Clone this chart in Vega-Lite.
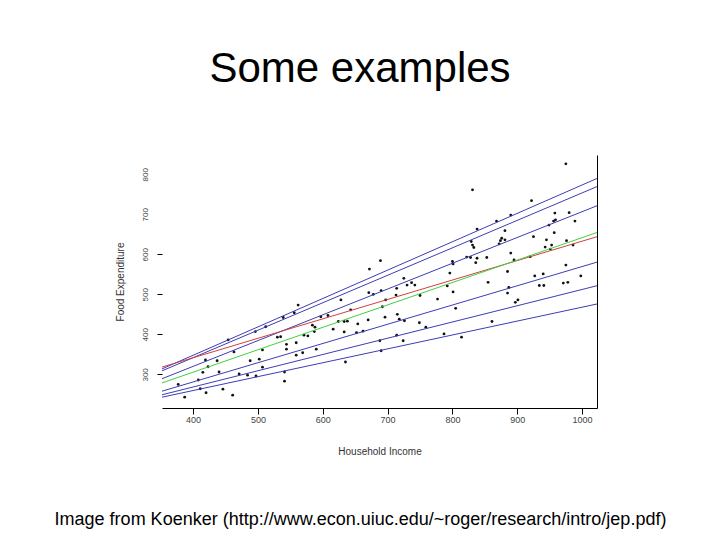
{
  "$schema": "https://vega.github.io/schema/vega-lite/v6.json",
  "width": 435,
  "height": 253,
  "autosize": {"type": "none"},
  "padding": {"left": 162, "top": 155, "right": 123, "bottom": 132},
  "background": "white",
  "config": {"view": {"stroke": null}, "font": "Liberation Sans"},
  "title": {
    "text": "Some examples",
    "font": "Liberation Sans",
    "fontSize": 42,
    "fontWeight": "normal",
    "color": "#000000",
    "anchor": "middle",
    "frame": "group",
    "dx": -19.5,
    "offset": 31,
    "baseline": "alphabetic"
  },
  "datasets": {
    "points": [
      {"income": 454, "food": 386}, {"income": 463, "food": 356}, {"income": 419, "food": 336},
      {"income": 423, "food": 319}, {"income": 488, "food": 334}, {"income": 502, "food": 338},
      {"income": 507, "food": 361}, {"income": 507, "food": 318}, {"income": 440, "food": 306},
      {"income": 408, "food": 286}, {"income": 415, "food": 305}, {"income": 471, "food": 301},
      {"income": 484, "food": 298}, {"income": 497, "food": 296}, {"income": 377, "food": 275},
      {"income": 411, "food": 264}, {"income": 446, "food": 263}, {"income": 420, "food": 254},
      {"income": 387, "food": 243}, {"income": 461, "food": 248}, {"income": 437, "food": 334},
      {"income": 496, "food": 407}, {"income": 512, "food": 419}, {"income": 562, "food": 473},
      {"income": 556, "food": 454}, {"income": 539, "food": 442}, {"income": 628, "food": 486},
      {"income": 643, "food": 461}, {"income": 608, "food": 447}, {"income": 597, "food": 444},
      {"income": 584, "food": 423}, {"income": 588, "food": 418}, {"income": 624, "food": 432},
      {"income": 633, "food": 432}, {"income": 638, "food": 433}, {"income": 654, "food": 426},
      {"income": 616, "food": 413}, {"income": 633, "food": 406}, {"income": 652, "food": 404},
      {"income": 662, "food": 408}, {"income": 587, "food": 407}, {"income": 571, "food": 398},
      {"income": 577, "food": 396}, {"income": 530, "food": 393}, {"income": 535, "food": 394},
      {"income": 559, "food": 379}, {"income": 544, "food": 375}, {"income": 544, "food": 363},
      {"income": 590, "food": 363}, {"income": 569, "food": 354}, {"income": 559, "food": 348},
      {"income": 635, "food": 331}, {"income": 541, "food": 306}, {"income": 541, "food": 283},
      {"income": 672, "food": 563}, {"income": 671, "food": 504}, {"income": 678, "food": 500},
      {"income": 670, "food": 436},
      {"income": 831, "food": 761}, {"income": 838, "food": 663}, {"income": 829, "food": 632},
      {"income": 831, "food": 623}, {"income": 833, "food": 617}, {"income": 822, "food": 593},
      {"income": 828, "food": 592}, {"income": 838, "food": 590}, {"income": 836, "food": 579},
      {"income": 800, "food": 582}, {"income": 801, "food": 576}, {"income": 689, "food": 584},
      {"income": 796, "food": 553}, {"income": 725, "food": 540}, {"income": 737, "food": 529},
      {"income": 730, "food": 523}, {"income": 742, "food": 523}, {"income": 714, "food": 515},
      {"income": 792, "food": 521}, {"income": 690, "food": 509}, {"income": 713, "food": 498},
      {"income": 801, "food": 506}, {"income": 750, "food": 497}, {"income": 697, "food": 486},
      {"income": 777, "food": 488}, {"income": 692, "food": 469}, {"income": 805, "food": 465},
      {"income": 696, "food": 443}, {"income": 715, "food": 450}, {"income": 718, "food": 438},
      {"income": 726, "food": 434}, {"income": 749, "food": 429}, {"income": 759, "food": 418},
      {"income": 714, "food": 398}, {"income": 787, "food": 401}, {"income": 814, "food": 393},
      {"income": 688, "food": 384}, {"income": 724, "food": 384}, {"income": 690, "food": 359},
      {"income": 975, "food": 826}, {"income": 922, "food": 734}, {"income": 890, "food": 698},
      {"income": 868, "food": 683}, {"income": 958, "food": 703}, {"income": 980, "food": 704},
      {"income": 959, "food": 686}, {"income": 956, "food": 683}, {"income": 989, "food": 683},
      {"income": 881, "food": 659}, {"income": 949, "food": 673}, {"income": 957, "food": 654},
      {"income": 925, "food": 644}, {"income": 876, "food": 640}, {"income": 874, "food": 634},
      {"income": 881, "food": 636}, {"income": 872, "food": 626}, {"income": 945, "food": 636},
      {"income": 976, "food": 634}, {"income": 953, "food": 623}, {"income": 986, "food": 623},
      {"income": 943, "food": 618}, {"income": 951, "food": 613}, {"income": 890, "food": 603},
      {"income": 853, "food": 592}, {"income": 895, "food": 586}, {"income": 920, "food": 594},
      {"income": 975, "food": 573}, {"income": 885, "food": 557}, {"income": 927, "food": 546},
      {"income": 940, "food": 551}, {"income": 998, "food": 546}, {"income": 855, "food": 530},
      {"income": 887, "food": 517}, {"income": 885, "food": 503}, {"income": 934, "food": 522},
      {"income": 941, "food": 522}, {"income": 971, "food": 528}, {"income": 978, "food": 530},
      {"income": 901, "food": 486}, {"income": 897, "food": 480}, {"income": 861, "food": 432}
    ],
    "lines": [
      {"line": "q05", "income": 352, "food": 243}, {"line": "q05", "income": 1023, "food": 475.8},
      {"line": "q10", "income": 352, "food": 249}, {"line": "q10", "income": 1023, "food": 521.4},
      {"line": "q25", "income": 352, "food": 258}, {"line": "q25", "income": 1023, "food": 580.4},
      {"line": "q75", "income": 352, "food": 289.1}, {"line": "q75", "income": 1023, "food": 721.2},
      {"line": "q90", "income": 352, "food": 308.8}, {"line": "q90", "income": 1023, "food": 769.1},
      {"line": "q95", "income": 352, "food": 313.7}, {"line": "q95", "income": 1023, "food": 789.4},
      {"line": "ols", "income": 352, "food": 318.3}, {"line": "ols", "income": 1023, "food": 643.9},
      {"line": "q50", "income": 352, "food": 278.6}, {"line": "q50", "income": 1023, "food": 654.4}
    ]
  },
  "layer": [
    {
      "data": {"name": "points"},
      "mark": {"type": "point", "filled": true, "size": 8, "color": "#111111", "opacity": 1},
      "encoding": {
        "x": {
          "field": "income", "type": "quantitative",
          "scale": {"domain": [352, 1023], "nice": false, "zero": false},
          "axis": {
            "orient": "bottom",
            "values": [400, 500, 600, 700, 800, 900, 1000],
            "format": "d",
            "title": "Household Income",
            "titleFontSize": 10, "titleFontWeight": "normal", "titleColor": "#333333",
            "titleY": 46, "titleBaseline": "alphabetic",
            "labelFontSize": 9, "labelColor": "#444444", "labelPadding": 1,
            "labelBaseline": "top", "labelFlush": false,
            "tickSize": 6, "tickColor": "#000000",
            "domainColor": "#000000", "grid": false
          }
        },
        "y": {
          "field": "food", "type": "quantitative",
          "scale": {"domain": [216, 848], "nice": false, "zero": false},
          "axis": {
            "orient": "left",
            "values": [300, 400, 500, 600, 700, 800],
            "title": "Food Expenditure",
            "titleFontSize": 10, "titleFontWeight": "normal", "titleColor": "#333333",
            "titleX": -41.5, "titleY": 126.5, "titleAngle": 270, "titleAlign": "center", "titleBaseline": "middle",
            "labelAngle": 270, "labelAlign": "center", "labelBaseline": "bottom",
            "labelFontSize": 8, "labelColor": "#444444", "labelPadding": 8,
            "tickSize": 5, "tickColor": "#000000",
            "tickOpacity": {"condition": {"test": "datum.value >= 700", "value": 0}, "value": 1},
            "domain": false, "grid": false
          }
        }
      }
    },
    {
      "data": {"name": "lines"},
      "mark": {"type": "line", "strokeWidth": 1, "clip": true},
      "encoding": {
        "x": {
          "field": "income", "type": "quantitative",
          "scale": {"domain": [352, 1023], "nice": false, "zero": false},
          "axis": {
            "orient": "bottom",
            "title": "Image from Koenker (http://www.econ.uiuc.edu/~roger/research/intro/jep.pdf)",
            "titleFont": "Liberation Sans", "titleFontSize": 18, "titleFontWeight": "normal", "titleColor": "#000000",
            "titleX": 198, "titleY": 116, "titleAlign": "center", "titleBaseline": "alphabetic",
            "labels": false, "ticks": false, "domain": false, "grid": false
          }
        },
        "y": {
          "field": "food", "type": "quantitative",
          "scale": {"domain": [216, 848], "nice": false, "zero": false},
          "axis": {"orient": "right", "domain": true, "domainColor": "#000000", "ticks": false, "labels": false, "title": null, "grid": false}
        },
        "color": {
          "field": "line", "type": "nominal",
          "scale": {
            "domain": ["q05", "q10", "q25", "q75", "q90", "q95", "ols", "q50"],
            "range": ["#3d3db5", "#3d3db5", "#3d3db5", "#3d3db5", "#3d3db5", "#3d3db5", "#d04040", "#40d040"]
          },
          "legend": null
        }
      }
    }
  ],
  "resolve": {"axis": {"x": "independent", "y": "independent"}}
}
